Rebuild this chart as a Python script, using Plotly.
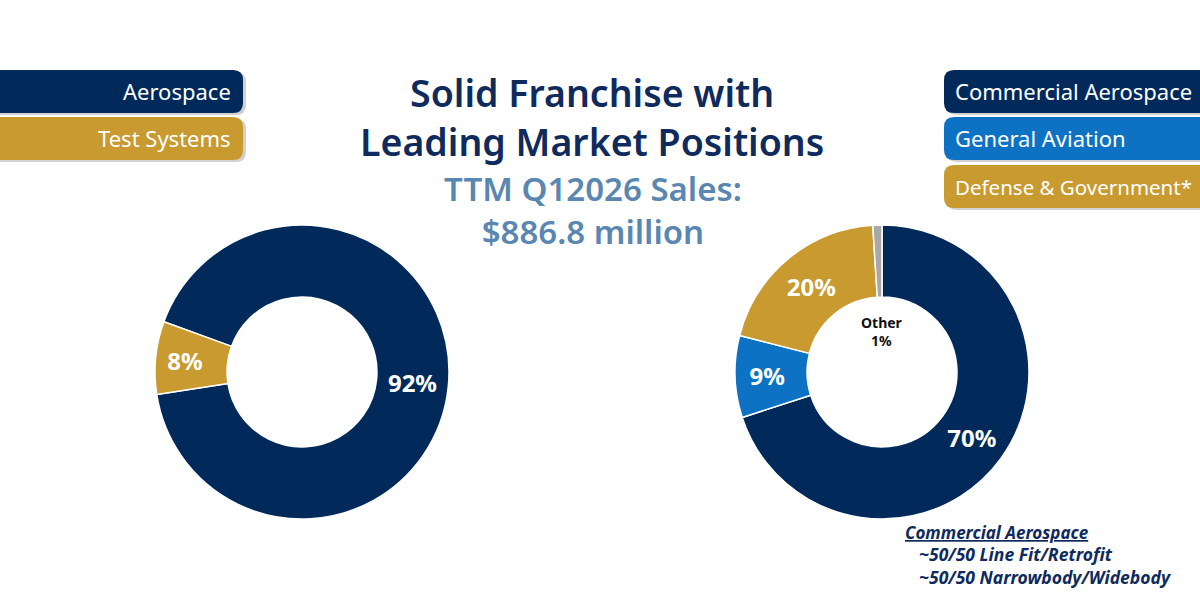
import plotly.graph_objects as go

W, H = 1200, 594

# segment data
seg_labels = ["Aerospace", "Test Systems"]
seg_values = [92, 8]
seg_colors = ["#012a5b", "#c89a30"]

mkt_labels = ["Commercial Aerospace", "General Aviation", "Defense & Government*", "Other"]
mkt_values = [70, 9, 20, 1]
mkt_colors = ["#012a5b", "#0e72c4", "#c89a30", "#a8a8a8"]
mkt_text = ["70%", "9%", "20%", ""]

FONT = "Noto Sans"


def px(x):
    return x / W


def py(y):
    return 1 - y / H


def rounded_box(x0, y0, x1, y1, r=10):
    # pixel coords -> paper path with rounded corners
    rx, ry = r / W, r / H
    a, b, c, d = px(x0), py(y1), px(x1), py(y0)
    return (f"M {a+rx},{b} L {c-rx},{b} Q {c},{b} {c},{b+ry} "
            f"L {c},{d-ry} Q {c},{d} {c-rx},{d} L {a+rx},{d} "
            f"Q {a},{d} {a},{d-ry} L {a},{b+ry} Q {a},{b} {a+rx},{b} Z")


fig = go.Figure()

fig.add_trace(go.Pie(
    labels=seg_labels, values=seg_values, hole=0.51,
    sort=False, direction="clockwise", rotation=290,
    marker=dict(colors=seg_colors, line=dict(color="white", width=1.5)),
    texttemplate="%{value}%", textposition="inside", insidetextorientation="horizontal",
    textfont=dict(family=FONT, size=24, color="white", weight="bold"),
    domain=dict(x=[px(155), px(449)], y=[py(519), py(225)]),
    showlegend=False, hoverinfo="label+percent",
))

fig.add_trace(go.Pie(
    labels=mkt_labels, values=mkt_values, hole=0.51,
    sort=False, direction="clockwise", rotation=0,
    marker=dict(colors=mkt_colors, line=dict(color="white", width=1.5)),
    text=mkt_text, texttemplate="%{text}", textposition="inside",
    insidetextorientation="horizontal",
    textfont=dict(family=FONT, size=24, color="white", weight="bold"),
    domain=dict(x=[px(735), px(1029)], y=[py(519), py(225)]),
    showlegend=False, hoverinfo="label+percent",
))

shapes = []
annotations = []

# left legend boxes
left_boxes = [(70, 113, seg_colors[0], seg_labels[0]), (117, 160, seg_colors[1], seg_labels[1])]
for y0, y1, col, lab in left_boxes:
    shapes.append(dict(type="path", path=rounded_box(-20, y0 + 2, 246, y1 + 2), xref="paper", yref="paper",
                       fillcolor="rgba(0,0,0,0.18)", line=dict(width=0), layer="below"))
    shapes.append(dict(type="path", path=rounded_box(-20, y0, 243, y1), xref="paper", yref="paper",
                       fillcolor=col, line=dict(width=0), layer="below"))
    annotations.append(dict(x=px(233), y=py((y0 + y1) / 2), xref="paper", yref="paper",
                            text=lab, showarrow=False, xanchor="right", yanchor="middle",
                            font=dict(family=FONT, size=22, color="white")))

# right legend boxes
right_boxes = [(70, 113, mkt_colors[0], mkt_labels[0], 22), (117, 160, mkt_colors[1], mkt_labels[1], 22),
               (165, 208, mkt_colors[2], mkt_labels[2], 20.5)]
for y0, y1, col, lab, fs in right_boxes:
    shapes.append(dict(type="path", path=rounded_box(947, y0 + 2, 1230, y1 + 2), xref="paper", yref="paper",
                       fillcolor="rgba(0,0,0,0.18)", line=dict(width=0), layer="below"))
    shapes.append(dict(type="path", path=rounded_box(944, y0, 1230, y1), xref="paper", yref="paper",
                       fillcolor=col, line=dict(width=0), layer="below"))
    annotations.append(dict(x=px(953), y=py((y0 + y1) / 2), xref="paper", yref="paper",
                            text=lab, showarrow=False, xanchor="left", yanchor="middle",
                            font=dict(family=FONT, size=fs, color="white")))

# title and subtitle
annotations.append(dict(x=px(592), y=py(117), xref="paper", yref="paper",
                        text="Solid Franchise with<br>Leading Market Positions", showarrow=False,
                        xanchor="center", yanchor="middle",
                        font=dict(family=FONT, size=37.5, color="#0f2a5c", weight=600)))
annotations.append(dict(x=px(593), y=py(210), xref="paper", yref="paper",
                        text="TTM Q12026 Sales:<br>$886.8 million", showarrow=False,
                        xanchor="center", yanchor="middle",
                        font=dict(family=FONT, size=33, color="#5a87b1", weight=600)))

# "Other" label in the hole
annotations.append(dict(x=px(882), y=py(331), xref="paper", yref="paper",
                        text="<b>Other<br>1%</b>", showarrow=False, xanchor="center", yanchor="middle",
                        font=dict(family=FONT, size=14, color="#111111")))

# footnote
foot_lines = [(903, 532, "<b><i><u>Commercial Aerospace</u></i></b>", 17),
              (917, 554, "<b><i>~50/50 Line Fit/Retrofit</i></b>", 17.5),
              (917, 577, "<b><i>~50/50 Narrowbody/Widebody</i></b>", 17.5)]
for x, y, t, s in foot_lines:
    annotations.append(dict(x=px(x), y=py(y), xref="paper", yref="paper", text=t,
                            showarrow=False, xanchor="left", yanchor="middle",
                            font=dict(family=FONT, size=s, color="#0f2a5c")))

fig.update_layout(
    width=W, height=H,
    margin=dict(l=0, r=0, t=0, b=0),
    paper_bgcolor="white", plot_bgcolor="white",
    shapes=shapes, annotations=annotations,
)

fig.write_html("out.html", config={"displayModeBar": False},
               post_script="document.body.style.margin='0';")
